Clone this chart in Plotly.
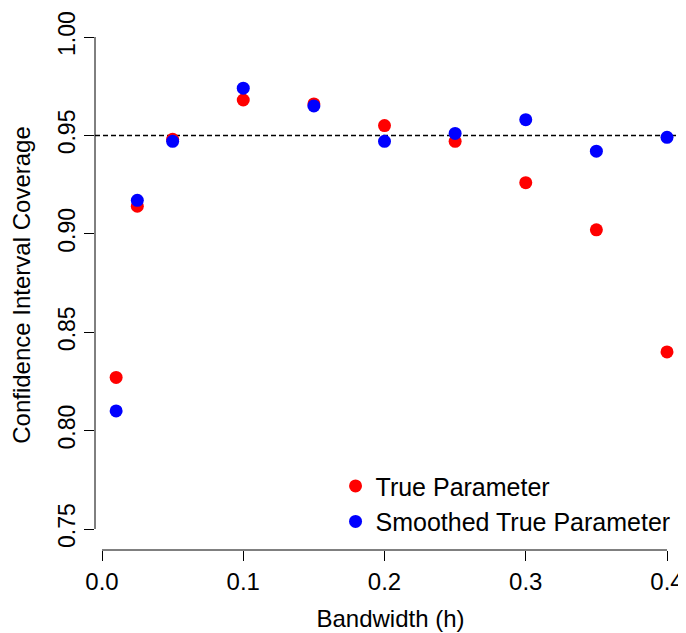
import plotly.graph_objects as go

bandwidth = [0.01, 0.025, 0.05, 0.1, 0.15, 0.2, 0.25, 0.3, 0.35, 0.4]
true_param = [0.827, 0.914, 0.948, 0.968, 0.966, 0.955, 0.947, 0.926, 0.902, 0.840]
smoothed_param = [0.810, 0.917, 0.947, 0.974, 0.965, 0.947, 0.951, 0.958, 0.942, 0.949]
x_ticks = [0.0, 0.1, 0.2, 0.3, 0.4]
x_tick_labels = ["0.0", "0.1", "0.2", "0.3", "0.4"]
y_ticks = [0.75, 0.80, 0.85, 0.90, 0.95, 1.00]
y_tick_labels = ["0.75", "0.80", "0.85", "0.90", "0.95", "1.00"]
reference_level = 0.95

FONT = "Liberation Sans, Arial, Helvetica, sans-serif"

fig = go.Figure()
fig.add_trace(go.Scatter(
    x=bandwidth, y=true_param, mode="markers", name="True Parameter",
    marker=dict(color="#FF0000", size=13), cliponaxis=False, legendgroup="a"))
fig.add_trace(go.Scatter(
    x=bandwidth, y=smoothed_param, mode="markers", name="Smoothed True Parameter",
    marker=dict(color="#0000FF", size=13), cliponaxis=False, legendgroup="b"))

# reference line
fig.add_shape(type="line", xref="paper", yref="y", x0=0, x1=1,
              y0=reference_level, y1=reference_level,
              line=dict(color="black", width=1.5, dash="5px,3px"), layer="below")
# axis lines (R style: only between first and last tick)
fig.add_shape(type="line", xref="x", yref="paper", x0=x_ticks[0], x1=x_ticks[-1],
              y0=0, y1=0, line=dict(color="black", width=1))
fig.add_shape(type="line", xref="paper", yref="y", x0=0, x1=0,
              y0=y_ticks[0], y1=y_ticks[-1], line=dict(color="black", width=1))

# page body has an 8px margin, so the figure is offset by (8, 8)
fig.update_layout(
    width=678, height=625,
    margin=dict(l=87, r=0, t=12, b=83, autoexpand=False),
    paper_bgcolor="white", plot_bgcolor="white",
    font=dict(family=FONT, size=24, color="black"),
    showlegend=True,
    legend=dict(x=0.407, y=0.011, xanchor="left", yanchor="bottom",
                font=dict(size=25, family=FONT), bgcolor="rgba(0,0,0,0)",
                tracegroupgap=0),
    xaxis=dict(range=[-0.00496, 0.41345], tickvals=x_ticks, ticktext=x_tick_labels,
               ticks="outside", ticklen=10, tickwidth=1, tickcolor="black",
               showgrid=False, zeroline=False, showline=False, automargin=False,
               tickfont=dict(size=24),
               title=dict(text="Bandwidth (h)", font=dict(size=24), standoff=16)),
    yaxis=dict(range=[0.73933, 1.00864], tickvals=y_ticks, ticktext=y_tick_labels,
               ticks="outside", ticklen=10, tickwidth=1, tickcolor="black",
               tickangle=-90, automargin=False,
               showgrid=False, zeroline=False, showline=False,
               tickfont=dict(size=23),
               title=dict(text="Confidence Interval Coverage", font=dict(size=24), standoff=16)),
)

fig.write_html("out.html")
